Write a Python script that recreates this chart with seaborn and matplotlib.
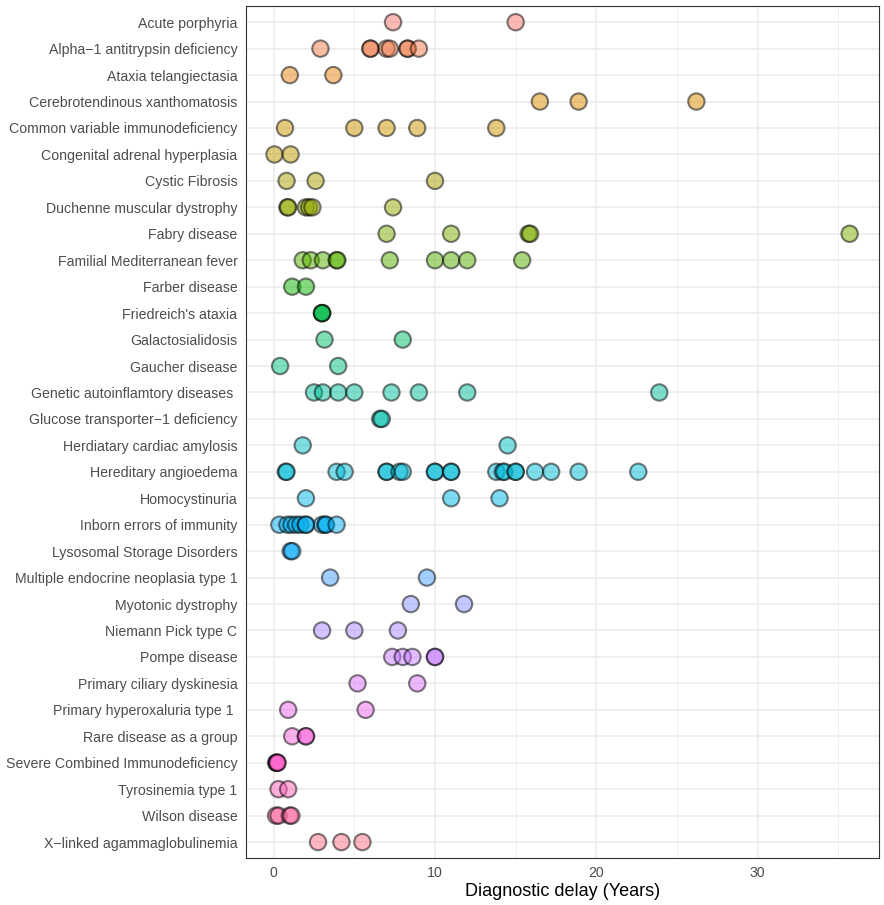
import numpy as np
import pandas as pd
import matplotlib
matplotlib.use('Agg')
import matplotlib.pyplot as plt
import seaborn as sns
from matplotlib.ticker import MultipleLocator

# Diseases (top to bottom) and their reported diagnostic delays (years)
diseases = [
    "Acute porphyria",
    "Alpha\u22121 antitrypsin deficiency",
    "Ataxia telangiectasia",
    "Cerebrotendinous xanthomatosis",
    "Common variable immunodeficiency",
    "Congenital adrenal hyperplasia",
    "Cystic Fibrosis",
    "Duchenne muscular dystrophy",
    "Fabry disease",
    "Familial Mediterranean fever",
    "Farber disease",
    "Friedreich's ataxia",
    "Galactosialidosis",
    "Gaucher disease",
    "Genetic autoinflamtory diseases ",
    "Glucose transporter\u22121 deficiency",
    "Herdiatary cardiac amylosis",
    "Hereditary angioedema",
    "Homocystinuria",
    "Inborn errors of immunity",
    "Lysosomal Storage Disorders",
    "Multiple endocrine neoplasia type 1",
    "Myotonic dystrophy",
    "Niemann Pick type C",
    "Pompe disease",
    "Primary ciliary dyskinesia",
    "Primary hyperoxaluria type 1 ",
    "Rare disease as a group",
    "Severe Combined Immunodeficiency",
    "Tyrosinemia type 1",
    "Wilson disease",
    "X\u2212linked agammaglobulinemia",
]

delays = [
    [7.4, 15.0],
    [2.9, 6.0, 6.0, 7.0, 7.2, 8.3, 8.3, 9.0],
    [1.0, 3.7],
    [16.5, 18.9, 26.2],
    [0.7, 5.0, 7.0, 8.9, 13.8],
    [0.05, 1.05],
    [0.8, 2.6, 10.0],
    [0.85, 0.9, 2.0, 2.2, 2.4, 7.4],
    [7.0, 11.0, 15.8, 15.9, 35.7],
    [1.8, 2.3, 3.05, 3.9, 3.95, 7.2, 10.0, 11.0, 12.0, 15.4],
    [1.15, 2.0],
    [3.0, 3.0, 3.0],
    [3.15, 8.0],
    [0.4, 4.0],
    [2.5, 3.05, 4.0, 5.0, 7.3, 9.0, 12.0, 23.9],
    [6.6, 6.7],
    [1.8, 14.5],
    [0.75, 0.8, 3.9, 4.4, 7.0, 7.0, 7.8, 8.0, 10.0, 10.0, 11.0, 11.0,
     13.8, 14.2, 14.3, 15.0, 15.0, 16.2, 17.2, 18.9, 22.6],
    [2.0, 11.0, 14.0],
    [0.35, 0.85, 1.1, 1.4, 1.65, 2.0, 2.0, 3.0, 3.2, 3.25, 3.9],
    [1.05, 1.15],
    [3.5, 9.5],
    [8.5, 11.8],
    [3.0, 5.0, 7.7],
    [7.35, 8.0, 8.6, 10.0, 10.0],
    [5.2, 8.9],
    [0.9, 5.7],
    [1.15, 2.0, 2.0],
    [0.15, 0.2, 0.2, 0.25],
    [0.3, 0.9],
    [0.15, 0.3, 1.0, 1.1],
    [2.75, 4.2, 5.5],
]

df = pd.DataFrame({
    "disease": [d for d, v in zip(diseases, delays) for _ in v],
    "delay": [x for v in delays for x in v],
})


def hcl_hue_palette(n, l=65, c=100):
    # ggplot2 default discrete hue palette (HCL, polar Luv)
    hues = np.linspace(15, 375, n + 1)[:-1]
    xn, yn, zn = 95.047, 100.0, 108.883
    un = 4 * xn / (xn + 15 * yn + 3 * zn)
    vn = 9 * yn / (xn + 15 * yn + 3 * zn)
    m = np.array([[3.2404542, -1.5371385, -0.4985314],
                  [-0.9692660, 1.8760108, 0.0415560],
                  [0.0556434, -0.2040259, 1.0572252]])
    cols = []
    for h in hues:
        u = c * np.cos(np.radians(h))
        v = c * np.sin(np.radians(h))
        y = yn * ((l + 16) / 116) ** 3
        up = u / (13 * l) + un
        vp = v / (13 * l) + vn
        x = y * 9 * up / (4 * vp)
        z = y * (12 - 3 * up - 20 * vp) / (4 * vp)
        rgb = m @ (np.array([x, y, z]) / 100)
        rgb = np.where(rgb <= 0.0031308, 12.92 * rgb,
                       1.055 * np.clip(rgb, 0, None) ** (1 / 2.4) - 0.055)
        cols.append(tuple(np.clip(rgb, 0, 1)))
    return cols


palette = dict(zip(diseases, hcl_hue_palette(len(diseases))))

sns.set_style("white")
plt.rcParams['font.family'] = ['Liberation Sans', 'DejaVu Sans']

fig, ax = plt.subplots(figsize=(8.84, 9.05), dpi=100)
fig.subplots_adjust(left=0.278, right=0.994, top=0.993, bottom=0.052)

sns.stripplot(data=df, x="delay", y="disease", hue="disease", order=diseases,
              hue_order=diseases, palette=palette, jitter=False, size=11.8,
              linewidth=1.5, edgecolor="black", alpha=0.5, legend=False,
              ax=ax, zorder=3)

ax.set_xlim(-1.73, 37.5)
ax.set_ylim(len(diseases) - 0.4, -0.6)
ax.xaxis.set_major_locator(MultipleLocator(10))
ax.xaxis.set_minor_locator(MultipleLocator(5))
ax.grid(True, which="major", color="#EBEBEB", linewidth=1.1, zorder=0)
ax.grid(True, which="minor", axis="x", color="#EBEBEB", linewidth=0.55, zorder=0)
ax.set_axisbelow(True)

for sp in ax.spines.values():
    sp.set_color("#333333")
    sp.set_linewidth(0.8)

ax.tick_params(axis="both", which="major", length=3, width=0.8, color="#333333",
               labelcolor="#4D4D4D", labelsize=10.2, pad=3)
ax.tick_params(axis="both", which="minor", length=0)
ax.set_xlabel("Diagnostic delay (Years)", fontsize=13, color="black", labelpad=2)
ax.set_ylabel("")

plt.savefig("out.png", dpi=100)
plt.close()
